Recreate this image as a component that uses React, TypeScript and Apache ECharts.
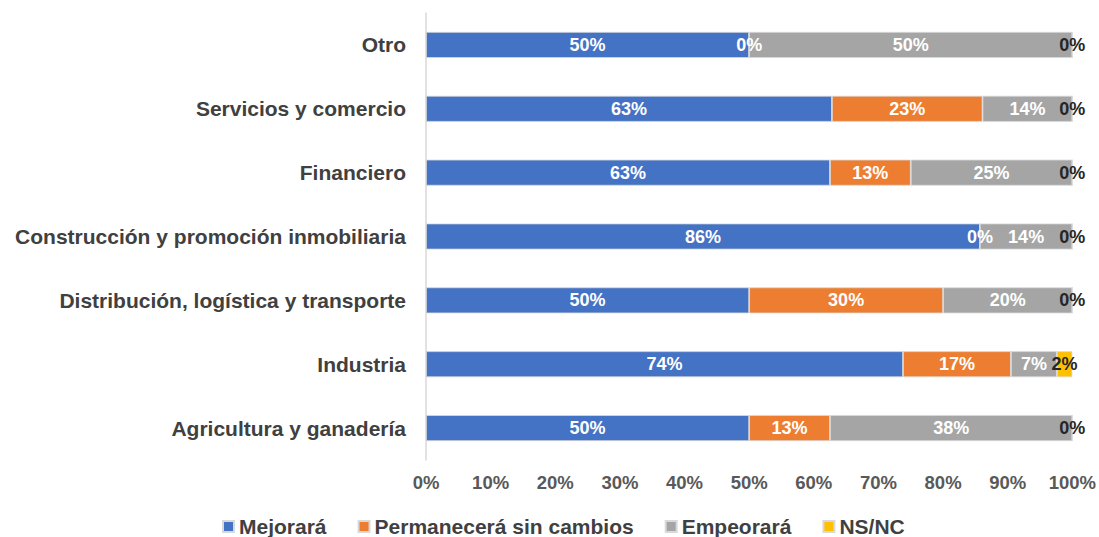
import React, { useEffect, useRef } from "react";
import * as echarts from "echarts";

const categories = [
  "Agricultura y ganadería",
  "Industria",
  "Distribución, logística y transporte",
  "Construcción y promoción inmobiliaria",
  "Financiero",
  "Servicios y comercio",
  "Otro",
];
const seriesNames = ["Mejorará", "Permanecerá sin cambios", "Empeorará", "NS/NC"];
const mejorara = [50, 73.8, 50, 85.7, 62.5, 62.8, 50];
const permanecera = [12.5, 16.7, 30, 0, 12.5, 23.3, 0];
const empeorara = [37.5, 7.1, 20, 14.3, 25, 13.9, 50];
const nsnc = [0, 2.4, 0, 0, 0, 0, 0];
const colors = ["#4472C4", "#ED7D31", "#A5A5A5", "#FFC000"];
const labelColors = ["#FFFFFF", "#FFFFFF", "#FFFFFF", "#262626"];

export default function App() {
  const ref = useRef<HTMLDivElement>(null);
  useEffect(() => {
    if (!ref.current) return;
    const chart = echarts.init(ref.current, null, { renderer: "svg" });
    const data = [mejorara, permanecera, empeorara, nsnc];
    const font = "Arial, 'Liberation Sans', sans-serif";
    chart.setOption({
      animation: false,
      textStyle: { fontFamily: font },
      grid: { left: 426, right: 26, top: 13, bottom: 77 },
      legend: {
        bottom: 0,
        left: 222,
        icon: "rect",
        itemWidth: 11,
        itemHeight: 11,
        itemGap: 31,
        padding: 0,
        textStyle: { fontSize: 21, fontWeight: "bold", color: "#404040", fontFamily: font },
        data: seriesNames,
      },
      xAxis: {
        type: "value",
        min: 0,
        max: 100,
        interval: 10,
        splitLine: { show: false },
        axisLine: { show: false },
        axisTick: { show: false },
        axisLabel: {
          formatter: "{value}%",
          fontSize: 18.5,
          fontWeight: "bold",
          color: "#595959",
          margin: 13,
        },
      },
      yAxis: {
        type: "category",
        data: categories,
        axisLine: { show: true, lineStyle: { color: "#D9D9D9", width: 1.5 } },
        axisTick: { show: false },
        axisLabel: {
          fontSize: 21,
          fontWeight: "bold",
          color: "#404040",
          margin: 20,
        },
      },
      series: seriesNames.map((name, i) => ({
        name,
        type: "bar",
        stack: "total",
        barWidth: 26,
        data: data[i],
        itemStyle: { color: colors[i], borderColor: "#D9D9D9", borderWidth: 0.8 },
        label: {
          show: true,
          position: "inside",
          formatter: (p: any) => Math.round(p.value) + "%",
          fontSize: 18,
          fontWeight: "bold",
          color: labelColors[i],
        },
      })),
    });
    return () => chart.dispose();
  }, []);
  return (
    <div
      ref={ref}
      style={{ position: "fixed", left: 0, top: 0, width: 1099, height: 537, background: "#fff" }}
    />
  );
}
